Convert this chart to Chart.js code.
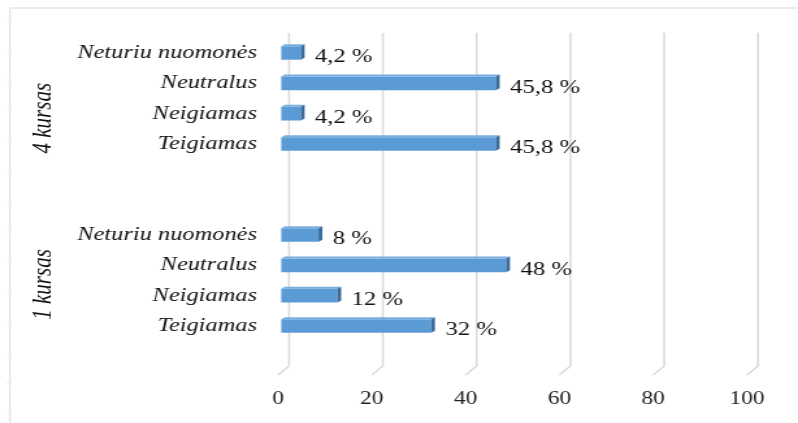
<!DOCTYPE html>
<html>
<head>
<meta charset="utf-8">
<script src="https://cdn.jsdelivr.net/npm/chart.js@4/dist/chart.umd.min.js"></script>
<style>
  html, body { margin: 0; padding: 0; background: #fff; overflow: hidden; }
  #wrap { width: 614px; height: 423px; transform: scaleX(1.2997); transform-origin: 0 0; }
</style>
</head>
<body>
<div id="wrap"><canvas id="chart" width="614" height="423"></canvas></div>
<script>
// kategorijos (iš viršaus į apačią), tuščios eilutės tarp grupių
const categories = ['Neturiu nuomonės', 'Neutralus', 'Neigiamas', 'Teigiamas', '', '',
                    'Neturiu nuomonės', 'Neutralus', 'Neigiamas', 'Teigiamas', ''];
const kursas4 = [4.2, 45.8, 4.2, 45.8];
const kursas1 = [8, 48, 12, 32];
const values = [...kursas4, null, null, ...kursas1, null];
const groups = ['4 kursas', '1 kursas'];
const groupCenters = [2.15, 7.63];   // kategorijų indeksas, kur centruojamas grupės pavadinimas
const xTicks = [0, 20, 40, 60, 80, 100];

const SERIF = '"Liberation Serif", "Times New Roman", serif';

// rėmelis ir 3D tinklelis
const backdrop = {
    id: 'backdrop',
    beforeDatasetsDraw(chart) {
        const ctx = chart.ctx;
        const xs = chart.scales.x, ys = chart.scales.y;
        const { top, bottom } = chart.chartArea;
        ctx.save();
        // rėmelis
        ctx.strokeStyle = '#d9d9d9';
        ctx.lineWidth = 1;
        ctx.strokeRect(7.7, 8, 700, 500);
        // smulkios žymės kairėje
        ctx.strokeStyle = '#e6e6e6';
        for (let k = 0; k < 14; k++) {
            const y = ys.getPixelForValue(k - 0.5) - 18.3;
            if (y < 12 || y > 420) continue;
            ctx.beginPath();
            ctx.moveTo(5.4, y);
            ctx.lineTo(7.7, y);
            ctx.stroke();
        }
        // vertikalios linijos
        ctx.strokeStyle = '#d9d9d9';
        ctx.lineWidth = 1.5;
        xTicks.forEach(v => {
            const x = xs.getPixelForValue(v);
            ctx.beginPath();
            ctx.moveTo(x + 6.2, top - 5);
            ctx.lineTo(x + 6.2, bottom - 5.5);
            ctx.lineTo(x - 2.3, bottom + 3.5);
            ctx.stroke();
        });
        ctx.restore();
    },
    afterDatasetsDraw(chart) {
        const ctx = chart.ctx;
        const meta = chart.getDatasetMeta(0);
        const dx = 3, dy = -2;
        ctx.save();
        meta.data.forEach((bar, i) => {
            const v = values[i];
            if (v === null || v === undefined) return;
            const left = bar.base, right = bar.x;
            const t = bar.y - bar.height / 2, b = bar.y + bar.height / 2;
            // viršutinė plokštuma
            ctx.fillStyle = '#78aee0';
            ctx.beginPath();
            ctx.moveTo(left, t);
            ctx.lineTo(left + dx, t + dy);
            ctx.lineTo(right + dx, t + dy);
            ctx.lineTo(right, t);
            ctx.closePath();
            ctx.fill();
            // šoninė plokštuma
            ctx.fillStyle = '#3b6c9c';
            ctx.beginPath();
            ctx.moveTo(right, t);
            ctx.lineTo(right + dx, t + dy);
            ctx.lineTo(right + dx, b + dy);
            ctx.lineTo(right, b);
            ctx.closePath();
            ctx.fill();
            // reikšmės žyma
            ctx.fillStyle = '#111';
            ctx.font = '19px ' + SERIF;
            ctx.textAlign = 'left';
            ctx.textBaseline = 'alphabetic';
            ctx.fillText(String(v).replace('.', ',') + ' %', right + dx + 8, bar.y + 9.5);
        });
        // grupių pavadinimai
        const ys = chart.scales.y;
        ctx.font = 'italic 21px ' + SERIF;
        ctx.fillStyle = '#111';
        ctx.textAlign = 'center';
        ctx.textBaseline = 'middle';
        groups.forEach((g, i) => {
            const y = ys.getPixelForValue(groupCenters[i]);
            ctx.save();
            ctx.translate(33, y);
            ctx.rotate(-Math.PI / 2);
            ctx.fillText(g, 0, 0);
            ctx.restore();
        });
        ctx.restore();
    }
};

new Chart(document.getElementById('chart'), {
    type: 'bar',
    data: {
        labels: categories,
        datasets: [{
            data: values,
            backgroundColor: '#5b9bd5',
            borderWidth: 0,
            categoryPercentage: 1,
            barPercentage: 0.45
        }]
    },
    options: {
        indexAxis: 'y',
        responsive: false,
        animation: false,
        devicePixelRatio: 1,
        layout: { padding: { top: 37.8, right: 37, bottom: 0, left: 0 } },
        plugins: {
            legend: { display: false },
            tooltip: { enabled: false }
        },
        scales: {
            x: {
                min: 0,
                max: 100,
                afterFit: s => { s.height = 51.5; },
                grid: { display: false, drawTicks: false },
                border: { display: false },
                ticks: {
                    stepSize: 20,
                    padding: 17,
                    labelOffset: -2.3,
                    color: '#222',
                    font: { family: SERIF, size: 18 }
                }
            },
            y: {
                afterFit: s => { s.width = 216.2; },
                grid: { display: false, drawTicks: false },
                border: { display: false },
                ticks: {
                    autoSkip: false,
                    padding: 18.5,
                    color: '#111',
                    font: { family: SERIF, size: 18.8, style: 'italic' }
                }
            }
        }
    },
    plugins: [backdrop]
});
</script>
</body>
</html>
